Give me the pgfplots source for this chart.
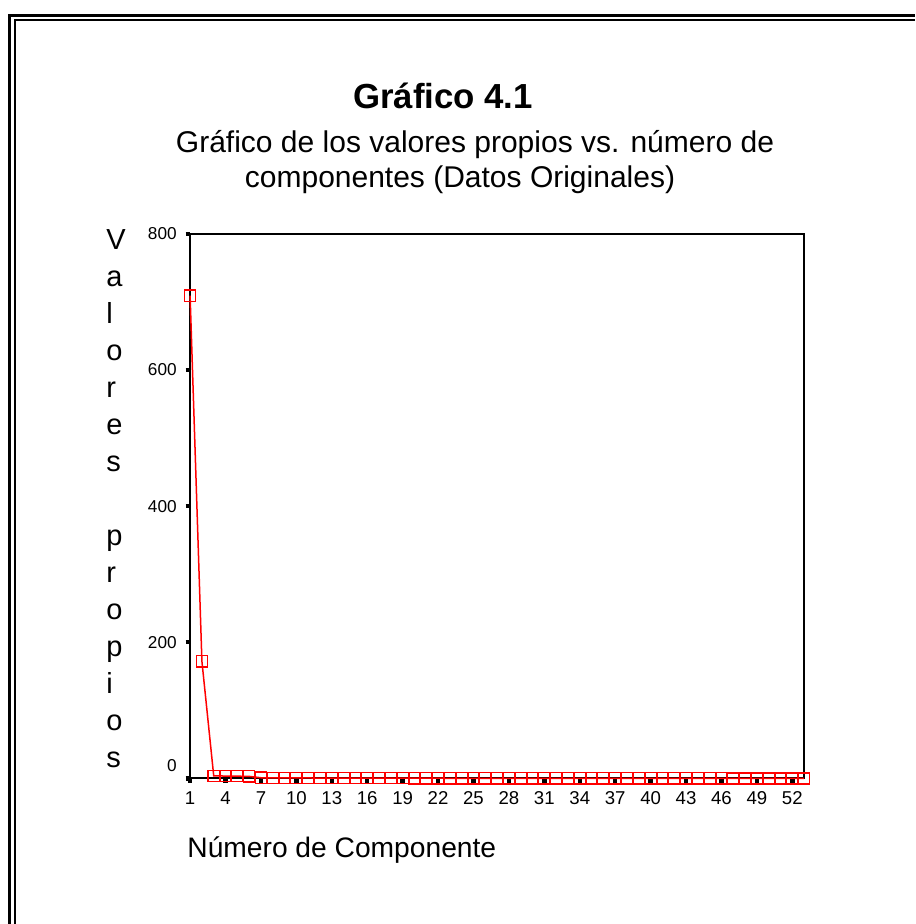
\documentclass[border=0pt]{standalone}
\usepackage{fontspec}
\setmainfont{Liberation Sans}
\usepackage{pgfplots}
\pgfplotsset{compat=1.18}

\begin{document}
\begin{tikzpicture}[x=0.5pt, y=0.5pt]
\useasboundingbox (0,0) rectangle (915,924);
% double frame (cut at right and bottom)
\draw[line width=1.5pt] (9.5,0) -- (9.5,908.5) -- (915,908.5);
\draw[line width=1pt] (14.5,0) -- (14.5,903.5) -- (915,903.5);

% titles
\node[anchor=base, font=\fontsize{17.4}{20}\selectfont\bfseries] at (443,815) {Gráfico 4.1};
\node[anchor=base, font=\fontsize{15}{18}\selectfont] at (475,771) {Gráfico de los valores propios vs. número de};
\node[anchor=base, font=\fontsize{15}{18}\selectfont] at (460,736) {componentes (Datos Originales)};

% stacked y label
\foreach \c [count=\i from 0] in {V,a,l,o,r,e,s,,p,r,o,p,i,o,s}
  \node[anchor=base west, inner sep=0pt, font=\fontsize{14.5}{17}\selectfont] at (106,674-37*\i) {\c};

% x label
\node[anchor=base west, inner sep=0pt, font=\fontsize{14.1}{17}\selectfont] at (187,66) {Número de Componente};

\begin{axis}[at={(161,213.8)}, anchor=south west,
  scale only axis, width=307pt, height=272.35pt,
  xmin=1, xmax=53, ymin=0, ymax=800,
  axis line style={black, line width=1pt},
  xtick={1,4,...,52}, ytick={0,200,400,600,800},
  yticklabels={\raisebox{13pt}{0},200,400,600,800},
  tick align=outside, major tick length=2.2pt,
  tick style={black, line width=2.2pt},
  xtick pos=bottom, ytick pos=left,
  /pgf/number format/assume math mode=true,
  x tick label style={font=\fontsize{9.3}{11}\selectfont, yshift=-1pt},
  y tick label style={font=\fontsize{8.6}{10}\selectfont, xshift=-1pt},
  clip=false]
\addplot[red, line width=0.75pt, mark=square, mark size=2.8pt,
  mark options={line width=0.7pt, fill=none}] coordinates {
(1,709) (2,172) (3,3.8) (4,3.5) (5,3.3) (6,3.0) (7,1.0) (8,0.9) (9,0.8)
(10,0.7) (11,0.65) (12,0.6) (13,0.55) (14,0.5) (15,0.45) (16,0.42) (17,0.4)
(18,0.38) (19,0.35) (20,0.33) (21,0.3) (22,0.28) (23,0.26) (24,0.24) (25,0.22)
(26,0.2) (27,0.19) (28,0.18) (29,0.17) (30,0.16) (31,0.15) (32,0.14) (33,0.13)
(34,0.12) (35,0.11) (36,0.1) (37,0.09) (38,0.09) (39,0.08) (40,0.08) (41,0.07)
(42,0.07) (43,0.06) (44,0.06) (45,0.05) (46,0.05) (47,0.04) (48,0.04) (49,0.03)
(50,0.03) (51,0.02) (52,0.02) (53,0.01)};
\end{axis}
\end{tikzpicture}
\end{document}
